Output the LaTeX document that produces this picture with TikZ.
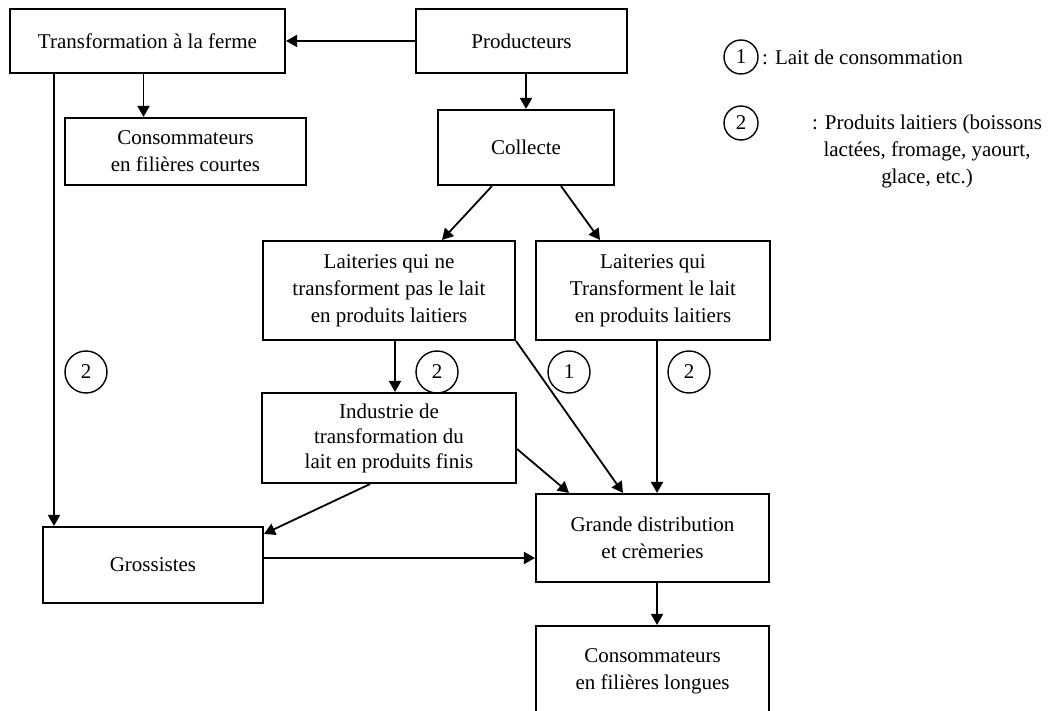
\documentclass[tikz,border=0pt]{standalone}
\usepackage{fontspec}
\setmainfont{Liberation Serif}
\usetikzlibrary{arrows.meta}
\begin{document}
\begin{tikzpicture}[x=1pt,y=-1pt,
  box/.style={draw, line width=2.1pt, align=center, inner sep=0pt,
    font=\fontsize{21}{27}\selectfont},
  tag/.style={draw, circle, line width=1.4pt, minimum size=42pt, inner sep=0pt,
    font=\fontsize{21}{27}\selectfont},
  ltag/.style={tag, minimum size=34pt},
  txt/.style={align=center, inner sep=0pt, font=\fontsize{21}{27}\selectfont},
  arr/.style={line width=1.8pt, -{Triangle[length=11pt,width=12pt]}},
  ln/.style={line width=1.8pt}]
\useasboundingbox (0,0) rectangle (1050,711);
\fill[white] (0,0) rectangle (1050,711);

% boxes
\node[box, minimum width=275pt, minimum height=64pt] (tf) at (147.5,41) {Transformation à la ferme};
\node[box, minimum width=211pt, minimum height=64pt] (prod) at (521.5,41) {Producteurs};
\node[box, minimum width=241pt, minimum height=67pt] (ccourt) at (185.5,151.5) {Consommateurs\\en filières courtes};
\node[box, minimum width=176pt, minimum height=75pt] (coll) at (526,147.5) {Collecte};
\node[box, minimum width=252pt, minimum height=99pt] (lne) at (389,290.5) {Laiteries qui ne\\transforment pas le lait\\en produits laitiers};
\node[box, minimum width=234pt, minimum height=99pt] (lq) at (653,290.5) {Laiteries qui\\Transforment le lait\\en produits laitiers};
\node[box, minimum width=254pt, minimum height=90pt, font=\fontsize{21}{25}\selectfont] (ind) at (389,438) {Industrie de\\transformation du\\lait en produits finis};
\node[box, minimum width=233pt, minimum height=88pt] (gd) at (652.5,538) {Grande distribution\\et crèmeries};
\node[box, minimum width=220pt, minimum height=76pt] (gros) at (153,565) {Grossistes};
\node[box, minimum width=233pt, minimum height=110pt, text depth=0pt] (clong) at (652.5,681) {};
\node[txt] (clongt) at (652.5,671) {Consommateurs\\en filières longues};

% legend
\node[ltag] (lg1) at (741,57) {1};
\node[txt, anchor=west] (lg1t) at (762,57) {: Lait de consommation};
\node[ltag] (lg2) at (741,123) {2};
\node[txt] (lg2t) at (927,151) {: Produits laitiers (boissons\\lactées, fromage, yaourt,\\glace, etc.)};

% circles on flows
\node[tag] (c2a) at (86,372) {2};
\node[tag] (c2b) at (437,372) {2};
\node[tag] (c1) at (569,372) {1};
\node[tag] (c2c) at (689,372) {2};

% connectors
\draw[arr] (prod.west) -- (tf.east);
\draw[arr] ([xshift=-4pt]tf.south) -- ([xshift=-4pt]tf.south |- ccourt.north);
\draw[arr] ([xshift=-93.5pt]tf.south) -- ([xshift=-93.5pt]tf.south |- gros.north);
\draw[arr] (coll.north |- prod.south) -- (coll.north);
\draw[arr] ([xshift=-34pt]coll.south) -- ([xshift=53pt]lne.north);
\draw[arr] ([xshift=35pt]coll.south) -- ([xshift=-53pt]lq.north);
\draw[arr] ([xshift=6pt]lne.south) -- ([xshift=6pt]lne.south |- ind.north);
\draw[arr] (lne.south east) -- ([xshift=-29.5pt]gd.north);
\draw[arr] ([xshift=4pt]lq.south) -- ([xshift=4pt]lq.south |- gd.north);
\draw[arr] ([yshift=-11pt]ind.east) -- ([xshift=-83.5pt]gd.north);
\draw[arr] ([xshift=-19pt]ind.south) -- ([yshift=-8pt]gros.north east);
\draw[arr] ([yshift=7pt]gros.east) -- ([yshift=7pt]gros.east -| gd.west);
\draw[arr] ([xshift=4.5pt]gd.south) -- ([xshift=4.5pt]gd.south |- clong.north);
\end{tikzpicture}
\end{document}
